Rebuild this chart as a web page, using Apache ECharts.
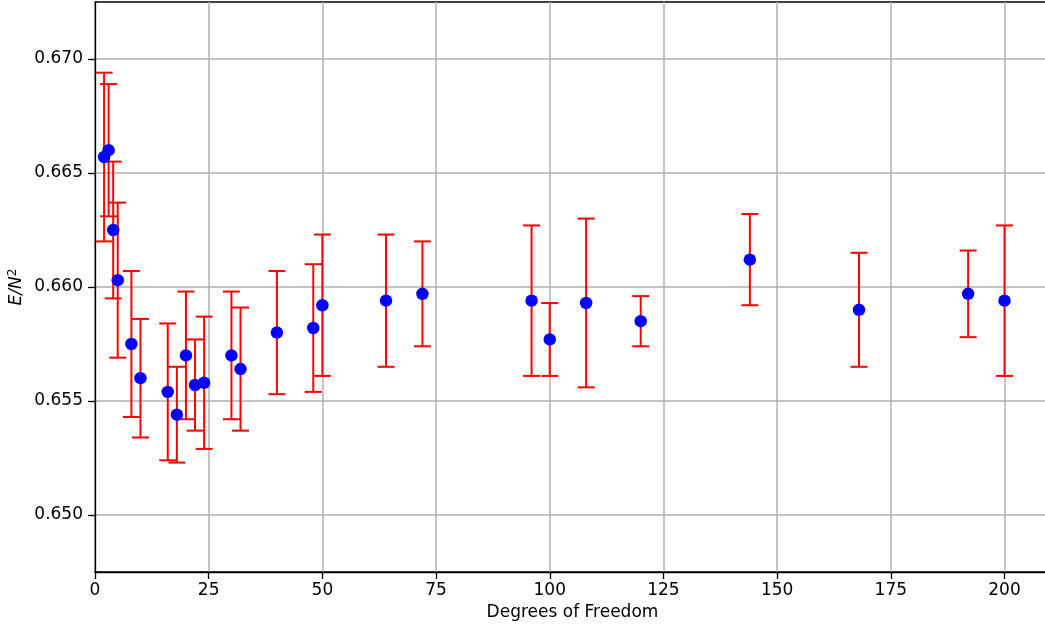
<!DOCTYPE html>
<html>
<head>
<meta charset="utf-8">
<script src="https://cdn.jsdelivr.net/npm/echarts@6/dist/echarts.min.js"></script>
<style>
  html, body { margin: 0; padding: 0; background: #ffffff; }
  #chart { width: 1045px; height: 626px; }
</style>
</head>
<body>
<div id="chart"></div>
<script>
// Degrees of freedom, energy per N^2 and its uncertainty
const dof = [2, 3, 4, 5, 8, 10, 16, 18, 20, 22, 24, 30, 32, 40, 48, 50, 64, 72, 96, 100, 108, 120, 144, 168, 192, 200];
const energy = [0.6657, 0.6660, 0.6625, 0.6603, 0.6575, 0.6560, 0.6554, 0.6544, 0.6570, 0.6557, 0.6558, 0.6570, 0.6564,
                0.6580, 0.6582, 0.6592, 0.6594, 0.6597, 0.6594, 0.6577, 0.6593, 0.6585, 0.6612, 0.6590, 0.6597, 0.6594];
const energyErr = [0.0037, 0.0029, 0.0030, 0.0034, 0.0032, 0.0026, 0.0030, 0.0021, 0.0028, 0.0020, 0.0029, 0.0028, 0.0027,
                   0.0027, 0.0028, 0.0031, 0.0029, 0.0023, 0.0033, 0.0016, 0.0037, 0.0011, 0.0020, 0.0025, 0.0019, 0.0033];

// Tick positions
const xTicks = [0, 25, 50, 75, 100, 125, 150, 175, 200];
const yTicks = [0.650, 0.655, 0.660, 0.665, 0.670];

const points = dof.map((d, i) => [d, energy[i]]);
const bars = dof.map((d, i) => [d, energy[i] - energyErr[i], energy[i] + energyErr[i]]);

const FONT = 'DejaVu Sans';
const FS = 17;
const chart = echarts.init(document.getElementById('chart'), null, { renderer: 'canvas' });

chart.setOption({
  animation: false,
  backgroundColor: '#ffffff',
  textStyle: { fontFamily: FONT },
  grid: {
    left: 95, top: 2, right: -5, bottom: 54,
    show: true, borderColor: '#000000', borderWidth: 1.3, backgroundColor: 'transparent',
    outerBoundsMode: 'none'
  },
  xAxis: {
    type: 'value', min: 0, max: 210,
    name: 'Degrees of Freedom', nameLocation: 'middle', nameGap: 32,
    nameTextStyle: { fontFamily: FONT, fontSize: FS, color: '#000000' },
    axisLine: { show: true, onZero: false, lineStyle: { color: '#000000', width: 1.3 } },
    axisTick: { show: true, length: 7, customValues: xTicks, lineStyle: { color: '#000000', width: 1.3 } },
    axisLabel: { customValues: xTicks, margin: 10, fontFamily: FONT, fontSize: FS, color: '#000000' },
    splitLine: { show: true, lineStyle: { color: '#b0b0b0', width: 1.5 } }
  },
  yAxis: {
    type: 'value', min: 0.6475, max: 0.6725,
    name: '{i|E/N}{s|2}', nameLocation: 'middle', nameGap: 68, nameRotate: 90,
    nameMoveOverlap: false,
    nameTextStyle: {
      color: '#000000',
      rich: {
        i: { fontFamily: FONT, fontStyle: 'italic', fontSize: FS, color: '#000000', lineHeight: 20 },
        s: { fontFamily: FONT, fontSize: 12, color: '#000000', verticalAlign: 'top', lineHeight: 14 }
      }
    },
    axisLine: { show: true, onZero: false, lineStyle: { color: '#000000', width: 1.3 } },
    axisTick: { show: true, length: 7, customValues: yTicks, lineStyle: { color: '#000000', width: 1.3 } },
    axisLabel: {
      customValues: yTicks, margin: 12, fontFamily: FONT, fontSize: FS, color: '#000000',
      formatter: v => v.toFixed(3)
    },
    splitLine: { show: true, lineStyle: { color: '#b0b0b0', width: 1.5 } }
  },
  series: [
    {
      type: 'custom',
      data: bars,
      encode: { x: 0, y: [1, 2] },
      z: 3,
      clip: false,
      renderItem: function (params, api) {
        const x = api.value(0);
        const top = api.coord([x, api.value(2)]);
        const bot = api.coord([x, api.value(1)]);
        const cap = 8.5;
        const st = { stroke: '#ff0000', lineWidth: 2 };
        return {
          type: 'group',
          children: [
            { type: 'line', shape: { x1: top[0], y1: top[1], x2: bot[0], y2: bot[1] }, style: st },
            { type: 'line', shape: { x1: top[0] - cap, y1: top[1], x2: top[0] + cap, y2: top[1] }, style: st },
            { type: 'line', shape: { x1: bot[0] - cap, y1: bot[1], x2: bot[0] + cap, y2: bot[1] }, style: st }
          ]
        };
      }
    },
    {
      type: 'scatter',
      data: points,
      symbol: 'circle',
      symbolSize: 12.5,
      z: 4,
      itemStyle: { color: '#0000ff', opacity: 1 }
    }
  ]
});
</script>
</body>
</html>
